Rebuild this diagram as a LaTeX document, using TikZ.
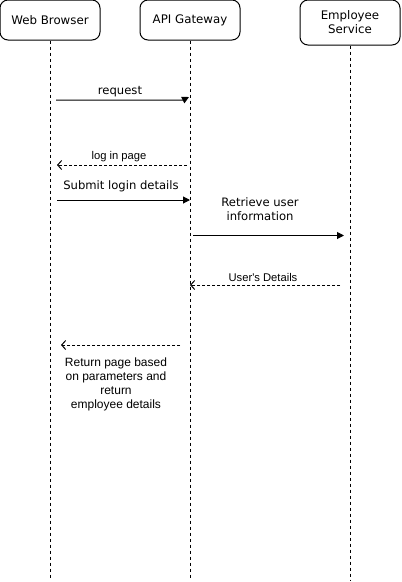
\documentclass[tikz,border=0pt]{standalone}
\usepackage{fontspec}
\setmainfont{DejaVu Sans}
\newfontfamily\labfont{Liberation Sans}
\usetikzlibrary{arrows.meta}
\begin{document}
\begin{tikzpicture}[x=1pt,y=-1pt,
  actor/.style={draw,rounded corners=8pt,line width=1pt,minimum width=100pt,inner sep=0pt,align=center,font=\fontsize{11.8}{14}\selectfont},
  lifeline/.style={line width=1pt,dash pattern=on 3pt off 3pt},
  msg/.style={line width=1pt,-{Triangle[length=7pt,width=7pt]}},
  ret/.style={line width=1pt,dash pattern=on 3pt off 2pt,-{Straight Barb[length=4pt,width=9pt]}},
  lab/.style={font=\fontsize{11.6}{13}\selectfont,inner sep=0pt},
  slab/.style={font=\labfont\fontsize{12}{13.8}\selectfont,inner sep=0pt,align=center},
  tlab/.style={font=\labfont\fontsize{11.2}{12}\selectfont,inner sep=0pt}]
\useasboundingbox (0,0) rectangle (402,582);
\node[actor,minimum height=40pt] (wb) at (50,20) {Web Browser};
\node[actor,minimum height=40pt] (gw) at (190,20) {API Gateway};
\node[actor,minimum height=45pt] (es) at (350,22.5) {Employee\\Service};
\coordinate (wbend) at (50,578);
\coordinate (gwend) at (190,578);
\coordinate (esend) at (350,581);
\draw[lifeline] (wb.south) -- (wbend);
\draw[lifeline] (gw.south) -- (gwend);
\draw[lifeline] (es.south) -- (esend);
% request
\coordinate (r1a) at (56,100);
\coordinate (r1b) at (189,97);
\draw[line width=1pt,-{Triangle[length=7pt,width=7pt]}] (r1a) -- (183,100) -- (r1b);
\node[lab] (l1) at (120,92) {request};
% log in page
\coordinate (r2a) at (187,165);
\coordinate (r2b) at (57,165);
\draw[ret] (r2a) -- (r2b);
\node[tlab] (l2) at (119,157) {log in page};
% submit
\coordinate (r3a) at (57,200);
\coordinate (r3b) at (190,200);
\draw[msg] (r3a) -- (r3b);
\node[lab] (l3) at (121,186.5) {Submit login details};
% retrieve
\coordinate (r4a) at (193,235.5);
\coordinate (r4b) at (344,235.5);
\draw[msg] (r4a) -- (r4b);
\node[lab,align=center,font=\fontsize{11.6}{14}\selectfont] (l4) at (260,209) {Retrieve user\\information};
% user's details
\coordinate (r5a) at (340,285);
\coordinate (r5b) at (190,285);
\draw[ret] (r5a) -- (r5b);
\node[tlab] (l5) at (263,277) {User's Details};
% return
\coordinate (r6a) at (180,345);
\coordinate (r6b) at (61,345);
\draw[ret] (r6a) -- (r6b);
\node[slab] (l6) at (116,384.5) {Return page based\\on parameters and\\return\\ employee details};
\end{tikzpicture}
\end{document}
